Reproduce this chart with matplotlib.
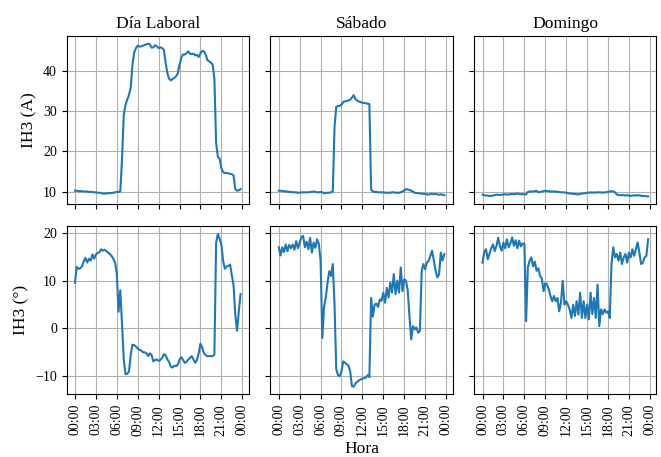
import matplotlib
matplotlib.use('Agg')
import matplotlib.pyplot as plt
import numpy as np

plt.rcParams['font.family'] = ['Liberation Serif', 'DejaVu Serif']
plt.rcParams['font.size'] = 10

# hours of the day, every 15 min
horas = np.arange(96) * 0.25

titulos = ['Día Laboral', 'Sábado', 'Domingo']
etiquetas_y = ['IH3 (A)', 'IH3 (°)']
ticks_x = [0, 3, 6, 9, 12, 15, 18, 21, 24]
ticks_lbl = ['00:00', '03:00', '06:00', '09:00', '12:00', '15:00', '18:00', '21:00', '00:00']

# current (A)
ih3_a_lab = [10.2, 10.2, 10.1, 10.1, 10.1, 10.0, 10.0, 10.0,
             9.9, 9.9, 9.9, 9.8, 9.8, 9.7, 9.7, 9.6,
             9.5, 9.5, 9.5, 9.6, 9.6, 9.6, 9.7, 9.8,
             9.9, 9.9, 10.0, 18.0, 29.0, 31.5, 32.8, 34.0,
             35.8, 41.5, 44.5, 45.6, 46.2, 46.0, 46.0, 46.2,
             46.4, 46.5, 46.7, 46.5, 45.7, 45.8, 46.3, 46.0,
             45.6, 45.8, 45.6, 45.2, 42.0, 39.4, 38.0, 37.6,
             37.9, 38.2, 38.6, 39.3, 41.5, 43.2, 44.0, 44.0,
             44.3, 44.8, 44.2, 44.1, 44.2, 43.8, 43.9, 43.4,
             44.3, 44.9, 44.8, 44.0, 42.6, 42.3, 42.0, 41.5,
             38.0, 22.0, 18.6, 18.2, 15.8, 14.8, 14.6, 14.6,
             14.5, 14.4, 14.3, 14.0, 10.6, 10.2, 10.3, 10.6]

ih3_a_sab = [10.2, 10.2, 10.1, 10.1, 10.0, 10.0, 9.9, 9.9,
             9.8, 9.8, 9.8, 9.7, 9.7, 9.8, 9.8, 9.8,
             9.8, 9.8, 9.9, 9.9, 10.0, 9.9, 9.8, 9.8,
             9.9, 9.8, 9.6, 9.6, 9.7, 9.7, 9.8, 10.0,
             26.0, 31.0, 31.2, 31.3, 31.5, 32.2, 32.4, 32.5,
             32.6, 32.8, 33.3, 33.9, 32.9, 32.6, 32.3, 32.2,
             32.0, 32.0, 31.9, 31.8, 31.7, 10.5, 10.0, 9.9,
             9.9, 9.8, 9.8, 9.8, 9.8, 9.7, 9.7, 9.7,
             9.7, 9.8, 9.8, 9.7, 9.7, 9.7, 9.8, 10.0,
             10.3, 10.6, 10.5, 10.4, 10.2, 10.0, 9.7, 9.6,
             9.6, 9.5, 9.5, 9.4, 9.4, 9.3, 9.2, 9.4,
             9.4, 9.3, 9.4, 9.3, 9.2, 9.3, 9.2, 9.1]

ih3_a_dom = [9.2, 9.1, 9.0, 9.0, 8.9, 8.9, 9.0, 9.1,
             9.2, 9.2, 9.1, 9.2, 9.3, 9.3, 9.2, 9.3,
             9.3, 9.4, 9.3, 9.4, 9.5, 9.4, 9.3, 9.4,
             9.3, 9.3, 9.9, 10.0, 10.0, 10.0, 10.1, 10.2,
             9.8, 9.9, 10.0, 10.1, 10.2, 10.1, 10.1, 10.0,
             10.0, 10.0, 10.0, 9.9, 9.9, 9.8, 9.8, 9.8,
             9.7, 9.6, 9.5, 9.5, 9.4, 9.4, 9.3, 9.3,
             9.4, 9.5, 9.5, 9.6, 9.7, 9.7, 9.8, 9.7,
             9.8, 9.7, 9.8, 9.8, 9.8, 9.7, 9.8, 9.8,
             9.9, 10.0, 10.1, 10.0, 9.8, 9.3, 9.1, 9.1,
             9.1, 9.1, 9.0, 9.1, 9.0, 8.9, 9.0, 9.0,
             9.1, 9.0, 9.1, 8.9, 8.9, 8.9, 8.8, 8.8]

# angle (deg)
ih3_g_lab = [9.6, 12.9, 12.5, 12.6, 13.0, 14.0, 14.8, 13.8,
             14.6, 14.2, 15.5, 14.6, 15.5, 15.8, 16.0, 16.6,
             16.3, 16.5, 16.2, 15.9, 15.6, 15.2, 14.6, 13.8,
             11.5, 3.5, 8.0, 1.0, -6.5, -9.6, -9.5, -9.0,
             -5.5, -3.4, -3.5, -3.8, -4.2, -4.5, -4.6, -5.0,
             -5.0, -5.2, -5.8, -5.2, -5.6, -6.9, -6.6, -6.5,
             -6.8, -6.6, -6.2, -5.4, -5.6, -6.5, -7.0, -8.0,
             -8.2, -7.8, -7.9, -7.6, -6.5, -6.0, -6.6, -7.2,
             -7.0, -6.5, -6.2, -5.8, -6.5, -7.2, -6.6, -5.2,
             -3.2, -4.0, -5.2, -5.6, -5.8, -5.8, -5.8, -5.8,
             -5.5, 18.0, 19.8, 18.8, 17.6, 14.2, 12.5, 13.0,
             13.1, 13.4, 11.2, 9.0, 2.9, -0.5, 3.5, 7.2]

ih3_g_sab = [17.0, 15.3, 17.0, 16.0, 17.6, 16.2, 17.5, 16.8,
             17.6, 16.5, 18.3, 16.8, 18.0, 19.1, 19.4, 17.0,
             18.2, 16.6, 19.0, 15.9, 18.0, 16.9, 18.7, 17.7,
             14.2, -2.0, 4.5, 6.5, 9.6, 12.0, 11.0, 13.5,
             5.0, -8.5, -9.8, -10.0, -9.0, -6.9, -7.2, -7.5,
             -7.8, -9.0, -12.1, -12.2, -11.5, -11.2, -10.9, -10.7,
             -10.5, -10.4, -10.3, -9.8, -10.2, 6.4, 2.5, 5.0,
             5.2, 4.5, 6.1, 5.8, 7.5, 5.4, 8.5, 6.5,
             9.6, 7.5, 11.4, 7.2, 10.0, 7.5, 12.8, 7.8,
             10.3, 10.0, 8.0, 2.5, -2.3, 0.5, -0.2, 0.2,
             -0.9, -0.5, 12.0, 13.5, 12.4, 13.8, 14.2, 15.2,
             16.3, 14.2, 12.1, 10.7, 11.4, 15.9, 14.2, 15.6]

ih3_g_dom = [13.8, 16.0, 16.6, 14.5, 15.6, 16.8, 17.6, 16.2,
             17.3, 19.0, 17.2, 16.3, 18.0, 16.8, 18.7, 17.0,
             17.8, 19.1, 17.3, 18.5, 16.8, 18.4, 17.2, 17.8,
             17.8, 1.5, 12.8, 14.2, 14.9, 13.0, 14.0, 12.1,
             12.6, 11.0, 10.5, 7.8, 9.5, 9.2, 8.2, 6.8,
             5.7, 6.8, 5.7, 6.4, 3.6, 5.4, 10.0, 5.0,
             5.7, 5.0, 4.0, 2.2, 5.0, 2.6, 5.7, 2.9,
             7.5, 2.2, 5.7, 2.2, 5.0, 1.9, 7.5, 3.0,
             6.4, 2.2, 9.2, 0.5, 4.0, 3.0, 4.0, 3.3,
             3.6, 2.2, 13.5, 17.0, 14.9, 15.6, 14.2, 15.9,
             13.5, 14.9, 15.6, 13.8, 15.9, 14.9, 16.6, 15.2,
             16.6, 18.0, 15.9, 13.5, 13.8, 14.9, 15.2, 18.7]

series = [[ih3_a_lab, ih3_a_sab, ih3_a_dom],
          [ih3_g_lab, ih3_g_sab, ih3_g_dom]]

fig, axs = plt.subplots(nrows=2, ncols=3, figsize=(6.61, 4.57), dpi=100,
                        sharex=True, sharey='row')
fig.subplots_adjust(left=0.1009, right=0.993, top=0.9212, bottom=0.1372,
                    wspace=0.119, hspace=0.133)

for i in range(2):
    for j in range(3):
        ax = axs[i, j]
        ax.plot(horas, series[i][j], color='#1f77b4', lw=1.5)
        ax.grid(True, color='#b0b0b0', lw=0.8)
        ax.set_axisbelow(True)
        if i == 0:
            ax.set_title(titulos[j], fontsize=12.6)
        if j == 0:
            ax.set_ylabel(etiquetas_y[i], fontsize=12.6)

axs[0, 0].set_yticks([10, 20, 30, 40])
axs[1, 0].set_yticks([-10, 0, 10, 20])

for ax in axs[1]:
    ax.set_xticks(ticks_x)
    ax.set_xticklabels(ticks_lbl, rotation=90)

axs[1, 1].set_xlabel('Hora', fontsize=12.6)

fig.savefig('out.png', dpi=100)
